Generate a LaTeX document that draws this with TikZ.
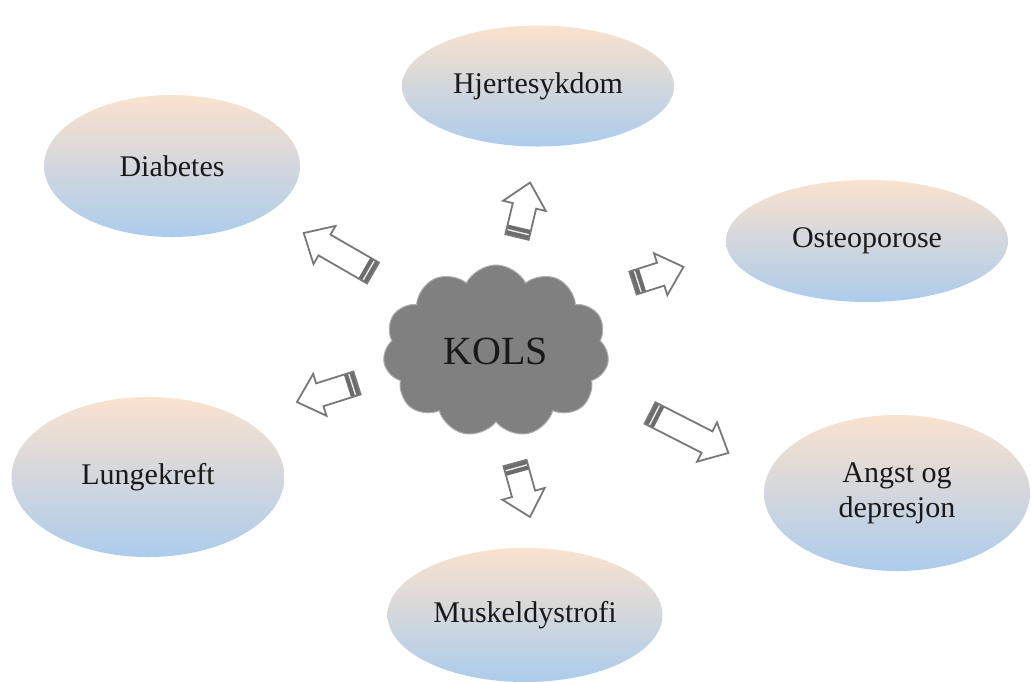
\documentclass[tikz,border=0pt]{standalone}
\usepackage{fontspec}
\setmainfont{Liberation Serif}
\usetikzlibrary{shapes.geometric,shapes.symbols}
\definecolor{peach}{RGB}{250,226,206}
\definecolor{lilac}{RGB}{212,215,233}
\definecolor{skyblue}{RGB}{172,204,236}
\definecolor{cloudgray}{RGB}{128,128,128}
\definecolor{cloudrim}{RGB}{175,175,175}
\definecolor{arrowgray}{RGB}{120,120,120}
\tikzset{
  bubble/.style={ellipse, top color=peach, middle color=lilac, bottom color=skyblue,
    inner sep=0pt, font=\fontsize{30}{35}\selectfont, align=center, text=black!90},
  arrowbody/.style={fill=white},
  arrowrim/.style={draw=arrowgray, line width=1.8pt, line join=miter},
  bandfill/.style={fill=arrowgray!90!black},
}
% block arrow: tail x, tail y, direction angle, length
\newcommand{\blockarrow}[4]{%
  \begin{scope}[shift={(#1,#2)}, rotate=#3]
    \path[arrowbody] (0,-12) -- (#4-24,-12) -- (#4-24,-22) -- (#4,0)
      -- (#4-24,22) -- (#4-24,12) -- (0,12) -- cycle;
    \fill[bandfill] (0,-12) rectangle (10,12);
    \draw[white!85!gray, line width=1.4pt] (5,-11) -- (5,11);
    \path[arrowrim] (0,-12) -- (#4-24,-12) -- (#4-24,-22) -- (#4,0)
      -- (#4-24,22) -- (#4-24,12) -- (0,12) -- cycle;
  \end{scope}}
\begin{document}
\begin{tikzpicture}[x=1pt, y=-1pt]
  \useasboundingbox[fill=white] (0,0) rectangle (1033,681);

  % outer conditions
  \node[bubble, minimum width=272pt, minimum height=121pt] (hjerte) at (538,86) {Hjertesykdom};
  \node[bubble, minimum width=256pt, minimum height=142pt] (diab) at (172,166) {Diabetes};
  \node[bubble, minimum width=282pt, minimum height=122pt] (osteo) at (867,241) {Osteoporose};
  \node[bubble, minimum width=273pt, minimum height=160pt] (lunge) at (148,477) {Lungekreft};
  \node[bubble, minimum width=266pt, minimum height=156pt] (angst) at (897,493) {Angst og\\depresjon};
  \node[bubble, minimum width=275pt, minimum height=134pt] (muskel) at (525,615) {Muskeldystrofi};

  % central cloud
  \node[cloud, cloud puffs=11, cloud puff arc=125, aspect=1.35,
        fill=cloudgray, draw=cloudrim, line width=1pt,
        minimum width=226pt, minimum height=172pt,
        font=\fontsize{40}{44}\selectfont, text=black!90] (kols) at (496,351) {KOLS};

  % arrows pointing out from the cloud
  \blockarrow{373}{273}{150}{80}
  \blockarrow{517}{237}{76.5}{56}
  \blockarrow{633}{283}{17.7}{53}
  \blockarrow{650}{413}{-27}{88}
  \blockarrow{515}{463}{-74.5}{56}
  \blockarrow{357}{383}{197.6}{63}
\end{tikzpicture}
\end{document}
